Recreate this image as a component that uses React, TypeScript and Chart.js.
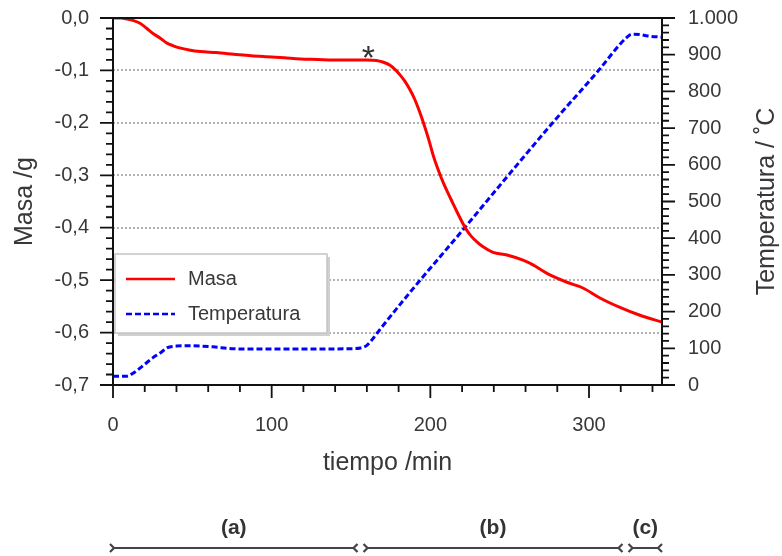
import { useEffect, useRef } from 'react';
import { Chart, registerables } from 'chart.js';

Chart.register(...registerables);

// Mass loss curve: time (min) and mass change (g)
const tiempoMasa = [
  0, 5, 9, 13, 17, 21, 25, 30, 34, 38, 42, 48, 55, 65, 76, 87, 97, 108, 118, 129, 139, 150, 160,
  166, 170, 174.6, 178, 181, 184, 187, 190, 193, 196, 199, 202, 205, 208, 211, 214, 217, 220,
  223, 226, 229, 233, 239.5, 248.3, 258.4, 264.7, 273.5, 286.1, 296.2, 306.9, 319.5, 332.1, 346,
];
const masa = [
  0, 0, -0.002, -0.005, -0.01, -0.019, -0.029, -0.039, -0.048, -0.053, -0.057, -0.061, -0.064,
  -0.066, -0.069, -0.072, -0.074, -0.076, -0.078, -0.079, -0.08, -0.08, -0.08,
  -0.081, -0.084, -0.09, -0.099, -0.109, -0.121, -0.136, -0.154, -0.177, -0.203, -0.232, -0.264,
  -0.29, -0.313, -0.333, -0.352, -0.371, -0.389, -0.405, -0.417, -0.426, -0.436, -0.447, -0.452,
  -0.462, -0.471, -0.487, -0.504, -0.515, -0.534, -0.552, -0.567, -0.58,
];

// Furnace temperature: time (min) and temperature (°C)
const tiempoTemp = [
  0, 8.8, 13, 17, 21, 25, 30, 34, 40, 47, 55, 63, 75, 90, 110, 130, 150, 156, 160, 163, 168,
  189, 220, 245, 277, 305, 324, 327, 332, 337, 346,
];
const temperatura = [
  24, 24, 33, 46, 60, 74, 88, 101, 106, 107, 106, 104, 99, 98, 98, 98, 99, 101, 108, 122, 150,
  262, 420, 550, 714, 852, 948, 956, 955, 951, 948,
];

// Axis ticks
const xTicks = [0, 100, 200, 300];
const masaTicks = [0, -0.1, -0.2, -0.3, -0.4, -0.5, -0.6, -0.7];
const tempTicks = [0, 100, 200, 300, 400, 500, 600, 700, 800, 900, 1000];
const masaGrid = [-0.1, -0.2, -0.3, -0.4, -0.5, -0.6];

// Process stages shown under the time axis
const etapas = ['(a)', '(b)', '(c)'];
const etapaInicio = [0, 156, 323];
const etapaFin = [156, 323, 346];

// Onset of the main decomposition step
const asteriscoT = 161;
const asteriscoM = -0.08;

const FONT = '"Liberation Sans", Arial, Helvetica, sans-serif';
const INK = '#383838';

const formatMasa = (v: number) => v.toFixed(1).replace('.', ',');
const formatTemp = (v: number) => String(v).replace(/\B(?=(\d{3})+(?!\d))/g, '.');

// keep tick-label padding from pushing the plot area around
const fixVertical = (width: number) => (s: any) => {
  s.width = width;
  s.paddingTop = 0;
  s.paddingBottom = 0;
};

const decor = {
  id: 'decor',
  beforeDatasetsDraw(chart: any) {
    const { ctx, chartArea: a, scales } = chart;
    ctx.save();
    ctx.strokeStyle = '#9a9a9a';
    ctx.lineWidth = 1.5;
    ctx.setLineDash([2, 2]);
    for (const m of masaGrid) {
      const y = Math.round(scales.y.getPixelForValue(m));
      ctx.beginPath();
      ctx.moveTo(a.left, y);
      ctx.lineTo(a.right, y);
      ctx.stroke();
    }
    ctx.restore();
  },
  afterDatasetsDraw(chart: any) {
    const { ctx, chartArea: a, scales } = chart;
    ctx.save();

    // asterisk marking the decomposition onset
    ctx.fillStyle = '#333';
    ctx.font = `34px ${FONT}`;
    ctx.textAlign = 'center';
    ctx.textBaseline = 'middle';
    ctx.fillText('*', scales.x.getPixelForValue(asteriscoT), scales.y.getPixelForValue(asteriscoM));

    // legend box
    const lx = a.left + 2;
    const ly = 254;
    const lw = 212;
    const lh = 79;
    ctx.fillStyle = '#d0d0d0';
    ctx.fillRect(lx + 3, ly + 3, lw, lh);
    ctx.fillStyle = '#ffffff';
    ctx.fillRect(lx, ly, lw, lh);
    ctx.strokeStyle = '#c4c4c4';
    ctx.lineWidth = 1.5;
    ctx.strokeRect(lx, ly, lw, lh);

    ctx.font = `20px ${FONT}`;
    ctx.textAlign = 'left';
    ctx.textBaseline = 'middle';
    chart.data.datasets.forEach((ds: any, i: number) => {
      const y = ly + 25 + i * 35;
      ctx.strokeStyle = ds.borderColor;
      ctx.lineWidth = 2.5;
      ctx.setLineDash(ds.borderDash || []);
      ctx.beginPath();
      ctx.moveTo(lx + 11, y);
      ctx.lineTo(lx + 60, y);
      ctx.stroke();
      ctx.setLineDash([]);
      ctx.fillStyle = INK;
      ctx.fillText(ds.label, lx + 73, y);
    });
    ctx.restore();
  },
  afterDraw(chart: any) {
    const { ctx, chartArea: a, scales } = chart;
    const sx = scales.x;
    const sy = scales.y;
    const sy1 = scales.y1;
    const MAJ = 13;
    const MIN = 7;
    ctx.save();
    ctx.strokeStyle = '#111';
    ctx.lineWidth = 2;
    ctx.lineCap = 'butt';

    // frame
    ctx.beginPath();
    ctx.moveTo(a.left, a.top);
    ctx.lineTo(a.right, a.top);
    ctx.moveTo(a.left, a.bottom);
    ctx.lineTo(a.right, a.bottom);
    ctx.moveTo(a.left, a.top);
    ctx.lineTo(a.left, a.bottom);
    ctx.moveTo(a.right, a.top);
    ctx.lineTo(a.right, a.bottom);
    ctx.stroke();

    ctx.lineWidth = 1.8;
    ctx.beginPath();
    // time axis ticks
    for (let v = 0; v <= 346; v += 20) {
      const x = sx.getPixelForValue(v);
      const len = v % 100 === 0 ? MAJ : MIN;
      ctx.moveTo(x, a.bottom);
      ctx.lineTo(x, a.bottom + len);
    }
    // mass axis ticks
    for (let k = 0; k <= 35; k++) {
      const v = -k * 0.02;
      const y = sy.getPixelForValue(v);
      const len = k % 5 === 0 ? MAJ : MIN;
      ctx.moveTo(a.left, y);
      ctx.lineTo(a.left - len, y);
    }
    // temperature axis ticks
    for (let v = 0; v <= 1000; v += 20) {
      const y = sy1.getPixelForValue(v);
      const len = v % 100 === 0 ? MAJ : MIN;
      ctx.moveTo(a.right, y);
      ctx.lineTo(a.right + len, y);
    }
    ctx.stroke();

    // axis titles
    ctx.fillStyle = INK;
    ctx.font = `25px ${FONT}`;
    ctx.textAlign = 'center';
    ctx.textBaseline = 'middle';
    const cy = (a.top + a.bottom) / 2;
    ctx.fillText('tiempo /min', (a.left + a.right) / 2, 463);
    ctx.save();
    ctx.translate(25, cy);
    ctx.rotate(-Math.PI / 2);
    ctx.fillText('Masa /g', 0, 0);
    ctx.restore();
    ctx.save();
    ctx.translate(767, cy);
    ctx.rotate(-Math.PI / 2);
    ctx.fillText('Temperatura / ˚C', 0, 0);
    ctx.restore();

    // process stages
    const yl = 548;
    ctx.strokeStyle = '#444';
    ctx.lineWidth = 2.2;
    ctx.font = `bold 21px ${FONT}`;
    etapas.forEach((label, i) => {
      const x0 = sx.getPixelForValue(etapaInicio[i]) + (i === 0 ? 1 : 7);
      const x1 = sx.getPixelForValue(etapaFin[i]) - (i === etapas.length - 1 ? 4 : 7);
      ctx.beginPath();
      ctx.moveTo(x0, yl);
      ctx.lineTo(x1, yl);
      ctx.moveTo(x0 - 4, yl - 4);
      ctx.lineTo(x0, yl);
      ctx.lineTo(x0 - 4, yl + 4);
      ctx.moveTo(x1 + 4, yl - 4);
      ctx.lineTo(x1, yl);
      ctx.lineTo(x1 + 4, yl + 4);
      ctx.stroke();
      ctx.fillStyle = '#333';
      ctx.fillText(label, (x0 + x1) / 2, 528);
    });
    ctx.restore();
  },
};

export default function App() {
  const canvasRef = useRef<HTMLCanvasElement | null>(null);

  useEffect(() => {
    const canvas = canvasRef.current;
    if (!canvas) return;
    const tickFont = { family: FONT, size: 20 };
    const chart = new Chart(canvas, {
      type: 'line',
      data: {
        datasets: [
          {
            label: 'Masa',
            data: tiempoMasa.map((t, i) => ({ x: t, y: masa[i] })),
            yAxisID: 'y',
            borderColor: '#ff0000',
            borderWidth: 3,
            pointRadius: 0,
            cubicInterpolationMode: 'monotone',
            fill: false,
          },
          {
            label: 'Temperatura',
            data: tiempoTemp.map((t, i) => ({ x: t, y: temperatura[i] })),
            yAxisID: 'y1',
            borderColor: '#0000ff',
            borderWidth: 3,
            borderDash: [6, 3],
            pointRadius: 0,
            cubicInterpolationMode: 'monotone',
            fill: false,
          },
        ],
      },
      options: {
        responsive: false,
        animation: false,
        layout: { padding: { top: 18, left: 0, right: 0, bottom: 0 } },
        plugins: { legend: { display: false }, tooltip: { enabled: false } },
        scales: {
          x: {
            type: 'linear',
            position: 'bottom',
            min: 0,
            max: 346,
            grid: { display: false, drawTicks: false },
            border: { display: false },
            afterBuildTicks: (s: any) => {
              s.ticks = xTicks.map((v) => ({ value: v }));
            },
            afterFit: (s: any) => {
              s.height = 171;
              s.paddingLeft = 0;
              s.paddingRight = 0;
            },
            ticks: { font: tickFont, color: INK, padding: 28, maxRotation: 0, autoSkip: false },
          },
          y: {
            type: 'linear',
            position: 'left',
            min: -0.7,
            max: 0,
            grid: { display: false, drawTicks: false },
            border: { display: false },
            afterBuildTicks: (s: any) => {
              s.ticks = masaTicks.map((v) => ({ value: v }));
            },
            afterFit: fixVertical(113),
            ticks: {
              font: tickFont,
              color: INK,
              padding: 24,
              autoSkip: false,
              callback: (v: any) => formatMasa(Number(v)),
            },
          },
          y1: {
            type: 'linear',
            position: 'right',
            min: 0,
            max: 1000,
            grid: { display: false, drawTicks: false },
            border: { display: false },
            afterBuildTicks: (s: any) => {
              s.ticks = tempTicks.map((v) => ({ value: v }));
            },
            afterFit: fixVertical(120),
            ticks: {
              font: tickFont,
              color: INK,
              padding: 26,
              autoSkip: false,
              callback: (v: any) => formatTemp(Number(v)),
            },
          },
        },
      },
      plugins: [decor],
    } as any);
    return () => chart.destroy();
  }, []);

  return (
    <div style={{ position: 'fixed', left: 0, top: 0, width: 782, height: 556, background: '#fff' }}>
      <canvas ref={canvasRef} width={782} height={556} />
    </div>
  );
}
